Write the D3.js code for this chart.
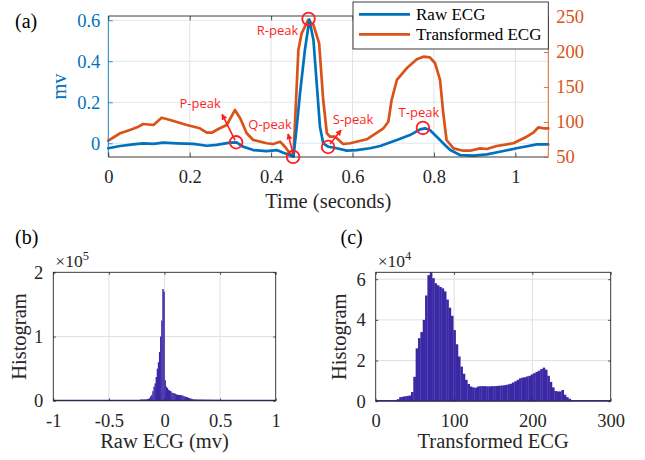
<!DOCTYPE html>
<html><head><meta charset="utf-8">
<script src="https://cdn.jsdelivr.net/npm/d3@7"></script>
<style>body{margin:0;background:#fff}svg{display:block}svg text{font-family:"Liberation Serif","Times New Roman",serif}</style>
</head><body><div id="chart"></div>
<script>
// ---------- data ----------
const ecgTime = [0,0.029,0.061,0.086,0.111,0.135,0.168,0.209,0.242,0.266,0.299,0.315,0.332,0.356,0.389,0.414,0.430,0.446,0.455,0.463,0.471,0.483,0.494,0.504,0.512,0.520,0.528,0.541,0.561,0.586,0.610,0.643,0.668,0.709,0.741,0.766,0.778,0.790,0.807,0.827,0.840,0.864,0.897,0.930,0.962,1.003,1.053,1.081];
const rawECG = [-0.024,-0.013,-0.005,0.000,-0.003,0.003,0.000,-0.003,-0.012,-0.008,0.003,0.005,-0.017,-0.033,-0.038,-0.033,-0.046,-0.057,-0.064,0.081,0.244,0.455,0.603,0.504,0.293,0.081,0.000,-0.017,-0.024,-0.036,-0.033,-0.024,-0.013,0.016,0.040,0.068,0.073,0.065,0.032,-0.008,-0.033,-0.057,-0.060,-0.054,-0.041,-0.024,-0.005,-0.005];
const transTime = [0,0.029,0.053,0.074,0.086,0.111,0.131,0.152,0.193,0.225,0.242,0.254,0.274,0.291,0.311,0.324,0.340,0.356,0.389,0.405,0.422,0.434,0.446,0.455,0.467,0.475,0.491,0.504,0.518,0.528,0.537,0.545,0.557,0.577,0.594,0.635,0.676,0.688,0.696,0.709,0.733,0.758,0.774,0.790,0.803,0.815,0.823,0.831,0.848,0.872,0.889,0.913,0.930,0.954,0.995,1.028,1.044,1.057,1.069,1.081];
const transformedECG = [73.3,83.9,88.6,93.3,97.1,95.7,106.1,102.9,95.7,91,84.7,84.7,91,95.7,117.1,105.3,83.9,74.3,69.6,68.6,71.9,64.7,55.3,52.9,202.9,226.7,245.7,238.6,212.4,131.4,83.9,79,79,68.6,69.6,75.3,91,100.4,131.4,160,176.7,189.6,193.3,192.4,183.9,160,112.4,74.3,62.4,59,59,62.4,61.4,65.7,69.6,79,84.7,92.4,91,91];
const seriesNames = ["Raw ECG", "Transformed ECG"];
const timeTicks = [0,0.2,0.4,0.6,0.8,1];
const mvTicks = [0,0.2,0.4,0.6];
const transTicks = [50,100,150,200,250];
const peakLabels = ["P-peak","Q-peak","R-peak","S-peak","T-peak"];
const peakTimes = [0.314,0.454,0.492,0.540,0.773];
const peakValues = [0.005,-0.066,0.607,-0.018,0.075];

const rawHistStart = -0.25, rawHistWidth = 0.01;
const rawHistCounts = [500,500,1000,2000,2000,2000,2000,2000,2000,2500,3000,4000,7000,9000,15000,22000,27000,37000,50000,60000,76000,100000,125000,174000,170000,
  32000,22000,20000,17000,16000,15000,13000,12000,12000,11000,10000,9500,9000,9000,9000,8500,8000,7000,6500,6000,5500,4500,4000,3500,3000,2500,
  2000,2000,2000,1800,1800,1800,1800,1700,1700,1700,1700,1600,1600,1600,1600,1600,1500,1500,1500,1500,1500,1500,1500,1000];
const rawHistTicksX = [-1,-0.5,0,0.5,1];
const rawHistTicksY = [0,100000,200000];

const transHistStart = 24, transHistWidth = 3;
const transHistCounts = [500,1000,2000,2200,2400,2600,2800,4500,12000,26000,31000,34000,40000,52000,62000,63400,60500,58000,57000,56200,55500,54000,50000,46000,42000,35000,28000,22000,17000,13500,10500,8500,7200,6800,6600,7200,7400,7400,7400,7300,7300,7400,7400,7500,7600,7700,7800,8000,8300,8600,9200,9800,10500,11300,11600,11800,12200,12500,13200,13800,14400,15000,15800,16500,15500,12500,9500,6800,5000,4800,4800,5500,3200,2000,1200,500];
const transHistTicksX = [0,100,200,300];
const transHistTicksY = [0,20000,40000,60000];

// ---------- style ----------
const W = 645, H = 460;
const SERIF = "Liberation Serif";
const BLUE = "#0072BD", ORANGE = "#D95319", AX = "#262626", HIST = "#3b28a5";
const RED = "#ff1f1f";
const fmt = d => String(d);

const svg = d3.select("#chart").append("svg").attr("width", W).attr("height", H)
  .attr("font-family", SERIF);

svg.append("defs").append("marker")
  .attr("id","arr").attr("viewBox","0 0 10 10").attr("refX",9).attr("refY",5)
  .attr("markerWidth",6).attr("markerHeight",6).attr("orient","auto-start-reverse")
  .attr("markerUnits","userSpaceOnUse")
  .append("path").attr("d","M0,0 L10,5 L0,10 z").attr("fill",RED);

function styleAxis(g, color, size) {
  g.attr("font-family", SERIF).attr("font-size", size);
  g.select(".domain").remove();
  g.selectAll(".tick line").attr("stroke", color).attr("stroke-width", 0.8);
  g.selectAll(".tick text").attr("fill", color).attr("font-family", SERIF).attr("font-size", size);
}
function gridLines(g, ticks, scale, orient, a, b, color) {
  g.selectAll(null).data(ticks).enter().append("line")
    .attr("x1", d => orient === "v" ? scale(d) : a).attr("x2", d => orient === "v" ? scale(d) : b)
    .attr("y1", d => orient === "v" ? a : scale(d)).attr("y2", d => orient === "v" ? b : scale(d))
    .attr("stroke", color).attr("stroke-width", 1);
}

// ---------- panel (a) ----------
const A = {l:108.3, r:548.3, t:16, b:157};
const xA = d3.scaleLinear().domain([0, 1.081]).range([A.l, A.r]);
const yL = d3.scaleLinear().domain([-0.0668, 0.621]).range([A.b, A.t]);
const yR = d3.scaleLinear().domain([50, 251.4]).range([A.b, A.t]);
const gA = svg.append("g");
gridLines(gA, timeTicks.filter(d=>d>0), xA, "v", A.t, A.b, "#e3e3e3");
gridLines(gA, mvTicks, yL, "h", A.l, A.r, "#dbeaf5");

const lineT = d3.line().x((d,i)=>xA(transTime[i])).y(d=>yR(d));
const lineR = d3.line().x((d,i)=>xA(ecgTime[i])).y(d=>yL(d));
gA.append("path").attr("d", lineT(transformedECG)).attr("fill","none").attr("stroke",ORANGE)
  .attr("stroke-width",2.7).attr("stroke-linejoin","round").attr("stroke-linecap","round");
gA.append("path").attr("d", lineR(rawECG)).attr("fill","none").attr("stroke",BLUE)
  .attr("stroke-width",2.7).attr("stroke-linejoin","round").attr("stroke-linecap","round");

// box
gA.append("line").attr("x1",A.l).attr("x2",A.r).attr("y1",A.t).attr("y2",A.t).attr("stroke",AX).attr("stroke-width",0.9);
gA.append("line").attr("x1",A.l).attr("x2",A.r).attr("y1",A.b).attr("y2",A.b).attr("stroke",AX).attr("stroke-width",0.9);
gA.append("line").attr("x1",A.l).attr("x2",A.l).attr("y1",A.t).attr("y2",A.b).attr("stroke",BLUE).attr("stroke-width",0.9);
gA.append("line").attr("x1",A.r).attr("x2",A.r).attr("y1",A.t).attr("y2",A.b).attr("stroke",ORANGE).attr("stroke-width",0.9);

const axB = gA.append("g").attr("transform",`translate(0,${A.b})`)
  .call(d3.axisBottom(xA).tickValues(timeTicks).tickFormat(fmt).tickSizeInner(-4.4).tickSizeOuter(0).tickPadding(13));
styleAxis(axB, AX, 18.5);
const axT = gA.append("g").attr("transform",`translate(0,${A.t})`)
  .call(d3.axisTop(xA).tickValues(timeTicks).tickFormat("").tickSizeInner(-4.4).tickSizeOuter(0));
styleAxis(axT, AX, 18.5);
const axL = gA.append("g").attr("transform",`translate(${A.l},0)`)
  .call(d3.axisLeft(yL).tickValues(mvTicks).tickFormat(fmt).tickSizeInner(-4.4).tickSizeOuter(0).tickPadding(8));
styleAxis(axL, BLUE, 18.5);
const axR = gA.append("g").attr("transform",`translate(${A.r},0)`)
  .call(d3.axisRight(yR).tickValues(transTicks).tickFormat(fmt).tickSizeInner(-4.4).tickSizeOuter(0).tickPadding(8));
styleAxis(axR, ORANGE, 18.5);

gA.append("text").attr("x",(A.l+A.r)/2).attr("y",208).attr("text-anchor","middle")
  .attr("font-size",20.5).attr("fill",AX).text("Time (seconds)");
gA.append("text").attr("transform",`translate(66,${(A.t+A.b)/2}) rotate(-90)`).attr("text-anchor","middle")
  .attr("font-size",20.5).attr("fill",BLUE).text("mv");
svg.append("text").attr("x",15).attr("y",28).attr("font-size",20).attr("fill","#000").text("(a)");

// annotations
const annLayout = [
  {tx:-36, ty:-34, a:[-1,-2,-14,-28]},
  {tx:-23, ty:-28, a:[0,-3,-5,-23]},
  {tx:-31, ty:16, a:null},
  {tx:25, ty:-23, a:[2,-3,13,-17]},
  {tx:-4, ty:-11, a:null}
];
const gN = svg.append("g");
peakLabels.forEach((lab,i) => {
  const cx = xA(peakTimes[i]), cy = yL(peakValues[i]), L = annLayout[i];
  gN.append("circle").attr("cx",cx).attr("cy",cy).attr("r",6.3).attr("fill","none")
    .attr("stroke",RED).attr("stroke-width",1.8);
  gN.append("text").attr("x",cx+L.tx).attr("y",cy+L.ty).attr("text-anchor","middle")
    .style("font-family","'Open Sans',sans-serif").attr("font-size",13).attr("fill",RED).text(lab);
  if (L.a) {
    gN.append("line").attr("x1",cx+L.a[0]).attr("y1",cy+L.a[1]).attr("x2",cx+L.a[2]).attr("y2",cy+L.a[3])
      .attr("stroke",RED).attr("stroke-width",1.6).attr("marker-end","url(#arr)");
  }
});

// legend
const lg = svg.append("g");
lg.append("rect").attr("x",353).attr("y",2).attr("width",A.r-353).attr("height",47)
  .attr("fill","#fff").attr("stroke",AX).attr("stroke-width",0.9);
[BLUE, ORANGE].forEach((c,i) => {
  const yy = 14.3 + i*20;
  lg.append("line").attr("x1",359).attr("x2",410).attr("y1",yy).attr("y2",yy).attr("stroke",c).attr("stroke-width",2.7);
  lg.append("text").attr("x",416).attr("y",yy+5.5).attr("font-size",17).attr("fill","#000").text(seriesNames[i]);
});

// ---------- histograms ----------
function histPanel(P, xDom, yDom, start, width, counts, ticksX, ticksY, exp, xLabel, tag, tagX, yLabX) {
  const x = d3.scaleLinear().domain(xDom).range([P.l, P.r]);
  const y = d3.scaleLinear().domain(yDom).range([P.b, P.t]);
  const g = svg.append("g");
  gridLines(g, ticksX.filter(d=>d>xDom[0] && d<xDom[1]), x, "v", P.t, P.b, "#e0e0e0");
  gridLines(g, ticksY.filter(d=>d>yDom[0] && d<yDom[1]), y, "h", P.l, P.r, "#e0e0e0");
  g.selectAll(null).data(counts).enter().append("rect")
    .attr("x",(d,i)=>x(start + i*width)).attr("width",(d,i)=>x(start+(i+1)*width)-x(start+i*width)+0.3)
    .attr("y",d=>y(d)).attr("height",d=>y(0)-y(d)).attr("fill",HIST);
  g.append("line").attr("x1",P.l).attr("x2",P.r).attr("y1",y(0)-0.5).attr("y2",y(0)-0.5).attr("stroke",HIST).attr("stroke-width",1.2);
  g.append("rect").attr("x",P.l).attr("y",P.t).attr("width",P.r-P.l).attr("height",P.b-P.t)
    .attr("fill","none").attr("stroke",AX).attr("stroke-width",0.9);
  const f = d => String(d / Math.pow(10, exp));
  const ab = g.append("g").attr("transform",`translate(0,${P.b})`)
    .call(d3.axisBottom(x).tickValues(ticksX).tickFormat(fmt).tickSizeInner(-2.5).tickSizeOuter(0).tickPadding(13));
  styleAxis(ab, AX, 18.5);
  const at = g.append("g").attr("transform",`translate(0,${P.t})`)
    .call(d3.axisTop(x).tickValues(ticksX).tickFormat("").tickSizeInner(-2.5).tickSizeOuter(0));
  styleAxis(at, AX, 18.5);
  const al = g.append("g").attr("transform",`translate(${P.l},0)`)
    .call(d3.axisLeft(y).tickValues(ticksY).tickFormat(f).tickSizeInner(-2.5).tickSizeOuter(0).tickPadding(10));
  styleAxis(al, AX, 18.5);
  const ar = g.append("g").attr("transform",`translate(${P.r},0)`)
    .call(d3.axisRight(y).tickValues(ticksY).tickFormat("").tickSizeInner(-2.5).tickSizeOuter(0));
  styleAxis(ar, AX, 18.5);
  const ex = g.append("text").attr("x",P.l+2).attr("y",266.7).attr("font-size",17.5).attr("fill",AX);
  ex.append("tspan").text("\u00d710");
  ex.append("tspan").attr("dy",-7).attr("font-size",12.5).text(exp);
  g.append("text").attr("x",(P.l+P.r)/2).attr("y",448).attr("text-anchor","middle")
    .attr("font-size",20.5).attr("fill",AX).text(xLabel);
  g.append("text").attr("transform",`translate(${yLabX},${(P.t+P.b)/2}) rotate(-90)`).attr("text-anchor","middle")
    .attr("font-size",20.5).attr("fill",AX).text("Histogram");
  svg.append("text").attr("x",tagX).attr("y",244).attr("font-size",20).attr("fill","#000").text(tag);
}
histPanel({l:53.3, r:275.7, t:272.3, b:400.8}, [-1,1], [0,200000], rawHistStart, rawHistWidth, rawHistCounts,
  rawHistTicksX, rawHistTicksY, 5, "Raw ECG (mv)", "(b)", 15, 26);
histPanel({l:375.7, r:610.7, t:272.3, b:401.2}, [0,300], [0,63400], transHistStart, transHistWidth, transHistCounts,
  transHistTicksX, transHistTicksY, 4, "Transformed ECG", "(c)", 340.5, 346);
</script></body></html>
